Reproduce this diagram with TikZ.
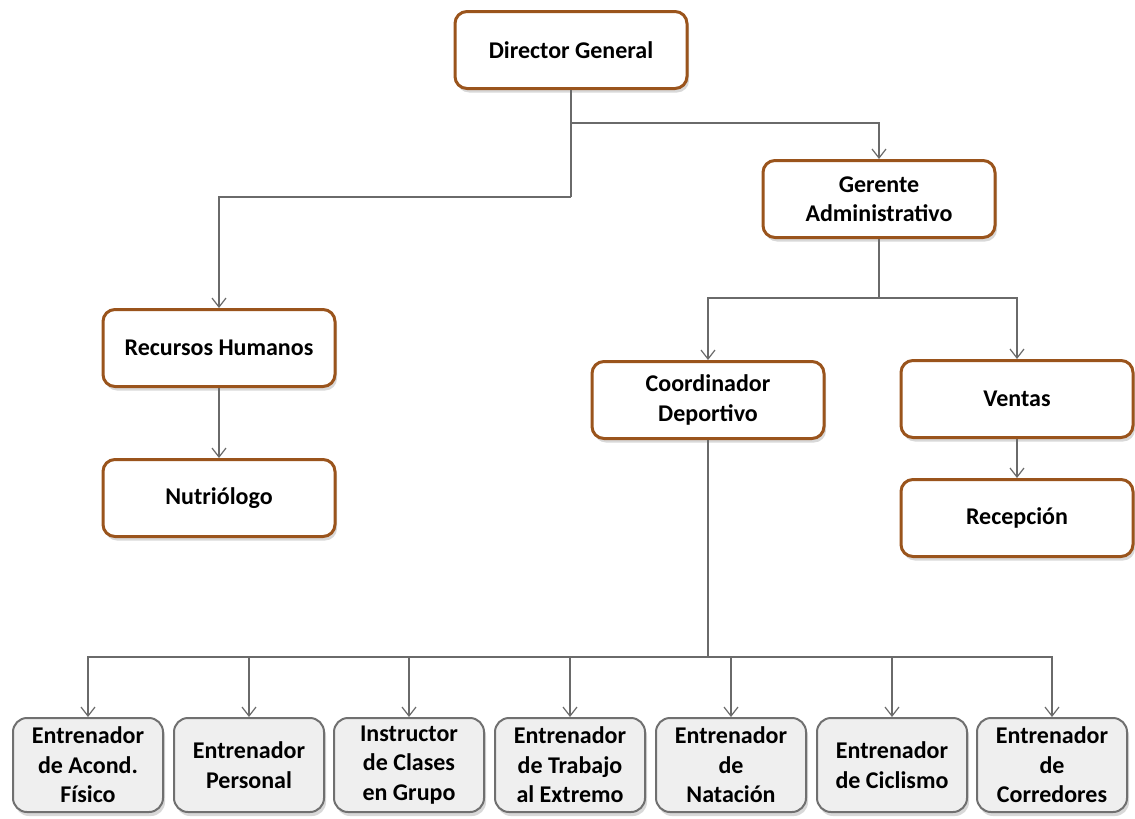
\documentclass[tikz,border=0pt]{standalone}
\usepackage{fontspec}
\setmainfont{Carlito}
\usetikzlibrary{arrows.meta,shadows,positioning}
\definecolor{brownc}{HTML}{9A541C}
\definecolor{grayb}{HTML}{707070}
\definecolor{grayf}{HTML}{EFEFEF}
\definecolor{linec}{HTML}{6A6A6A}
\tikzset{
  brownbox/.style={draw=brownc, line width=3pt, rounded corners=12pt, fill=white,
    minimum width=232pt, minimum height=77pt, align=center,
    font=\fontsize{24}{29.5}\selectfont\bfseries,
    drop shadow={shadow xshift=2pt, shadow yshift=-4pt, opacity=0.3}},
  graybox/.style={draw=grayb, line width=2pt, rounded corners=14pt, fill=grayf,
    minimum width=150pt, minimum height=94pt, align=center,
    font=\fontsize{24}{29.5}\selectfont\bfseries,
    drop shadow={shadow xshift=2pt, shadow yshift=-4pt, opacity=0.3}},
  conn/.style={draw=linec, line width=1.2pt, -{Straight Barb[length=9pt,width=14pt,line width=1.2pt]}},
  plain/.style={draw=linec, line width=1.2pt}
}
\begin{document}
\begin{tikzpicture}[x=1pt,y=-1pt]
\useasboundingbox (0,0) rectangle (1135,819);
\clip (0,0) rectangle (1135,819);
\fill[white] (0,0) rectangle (1135,819);
% connectors first (behind)
\coordinate (j1) at (571,123);
\coordinate (j2) at (571,197);
\coordinate (j3) at (879,298);
\coordinate (j4) at (708,657);

\node[brownbox] (dg) at (571,50) {Director General};
\node[brownbox] (ga) at (879,199) {Gerente\\Administrativo};
\node[brownbox] (rh) at (219,348) {Recursos Humanos};
\node[brownbox] (nu) at (219,498) {Nutriólogo};
\node[brownbox] (cd) at (708,400) {Coordinador\\Deportivo};
\node[brownbox] (ve) at (1017,399) {Ventas};
\node[brownbox] (re) at (1017,518) {Recepción};

\node[graybox] (b1) at (88,765) {Entrenador\\de Acond.\\Físico};
\node[graybox] (b2) at (249,765) {Entrenador\\Personal};
\node[graybox] (b3) at (409,765) {Instructor\\de Clases\\en Grupo};
\node[graybox] (b4) at (570,765) {Entrenador\\de Trabajo\\al Extremo};
\node[graybox] (b5) at (731,765) {Entrenador\\de\\Natación};
\node[graybox] (b6) at (892,765) {Entrenador\\de Ciclismo};
\node[graybox] (b7) at (1052,765) {Entrenador\\de\\Corredores};

\draw[plain] (dg.south) -- (j2);
\draw[conn] (j1) -| (ga.north);
\draw[conn] (j2) -| (rh.north);
\draw[conn] (rh.south) -- (nu.north);
\draw[plain] (ga.south) -- (j3);
\draw[conn] (j3) -| (cd.north);
\draw[conn] (j3) -| (ve.north);
\draw[conn] (ve.south) -- (re.north);
\draw[plain] (cd.south) -- (j4);
\foreach \b in {b1,b2,b3,b4,b5,b6,b7}{
  \draw[conn] (j4) -| (\b.north);
}
\end{tikzpicture}
\end{document}
